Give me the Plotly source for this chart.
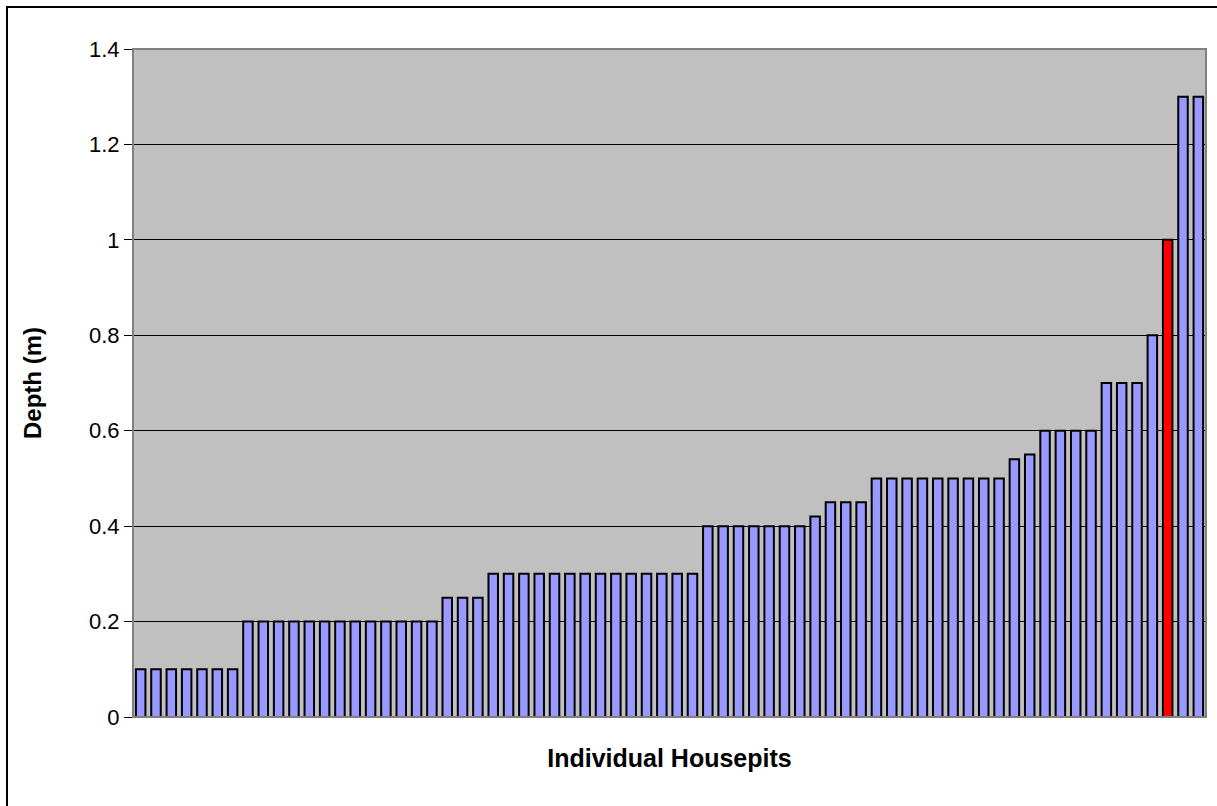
import plotly.graph_objects as go

# Housepit depths, sorted ascending (m)
depths = (
    [0.1] * 7 + [0.2] * 13 + [0.25] * 3 + [0.3] * 14 + [0.4] * 7 + [0.42]
    + [0.45] * 3 + [0.5] * 9 + [0.54, 0.55] + [0.6] * 4 + [0.7] * 3
    + [0.8, 1.0, 1.3, 1.3]
)
highlight_depth = 1.0  # the housepit drawn in red
housepits = list(range(1, len(depths) + 1))
y_ticks = [0, 0.2, 0.4, 0.6, 0.8, 1.0, 1.2, 1.4]
y_tick_text = ["0", "0.2", "0.4", "0.6", "0.8", "1", "1.2", "1.4"]

colors = ["#FF0000" if d == highlight_depth else "#9999FF" for d in depths]

W, H = 1217, 806
L, R, T, B = 133, 11, 49, 89
pw, ph = W - L - R, H - T - B

fig = go.Figure(
    go.Bar(
        x=housepits,
        y=depths,
        marker=dict(color=colors, line=dict(color="#000000", width=2)),
        hoverinfo="y",
    )
)

fig.update_layout(
    width=W,
    height=H,
    margin=dict(l=L, r=R, t=T, b=B),
    paper_bgcolor="#FFFFFF",
    plot_bgcolor="#C0C0C0",
    bargap=0.38,
    showlegend=False,
    font=dict(family="Liberation Sans, Arial, sans-serif", color="#000000"),
    xaxis=dict(
        range=[0.5, len(depths) + 0.5],
        showticklabels=False,
        ticks="",
        showgrid=False,
        zeroline=False,
        showline=True,
        linecolor="#808080",
        linewidth=1,
        title=dict(
            text="<b>Individual Housepits</b>",
            font=dict(size=25),
            standoff=32,
        ),
    ),
    yaxis=dict(
        range=[0, 1.4],
        tickvals=y_ticks,
        ticktext=y_tick_text,
        ticks="outside",
        ticklen=8,
        tickcolor="#000000",
        tickfont=dict(size=22),
        showgrid=True,
        gridcolor="#000000",
        gridwidth=1,
        zeroline=False,
        showline=True,
        linecolor="#000000",
        linewidth=1,
        title=dict(text="<b>Depth (m)</b>", font=dict(size=24), standoff=40),
    ),
    shapes=[
        # plot-area frame
        dict(
            type="rect", xref="paper", yref="paper",
            x0=0, y0=0, x1=1, y1=1,
            line=dict(color="#808080", width=2), layer="above",
        ),
        # outer chart border
        dict(
            type="rect", xref="paper", yref="paper",
            x0=(7 - L) / pw, y0=(H - B - 812) / ph,
            x1=(1225 - L) / pw, y1=(H - B - 7) / ph,
            line=dict(color="#000000", width=2), layer="above",
        ),
    ],
)

fig.write_html("out.html")
